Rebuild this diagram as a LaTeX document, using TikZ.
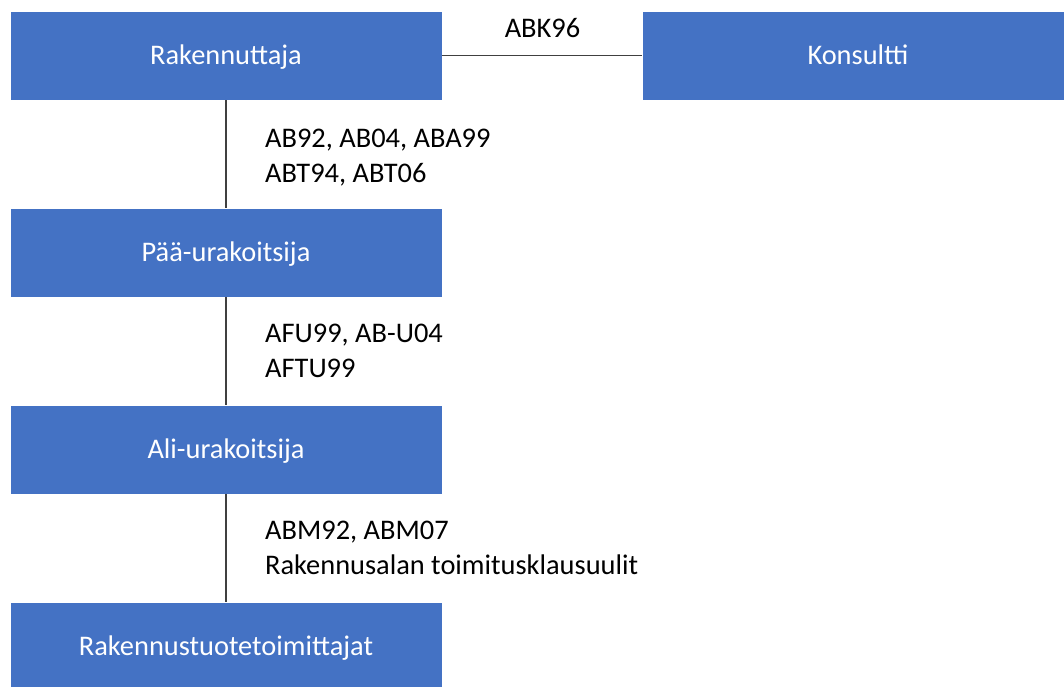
\documentclass[tikz,border=0pt]{standalone}
\usepackage{fontspec}
\setmainfont{Carlito}
\definecolor{boxblue}{HTML}{4472C4}
\definecolor{linegray}{HTML}{404040}
\tikzset{
  party/.style={rectangle, fill=boxblue, draw=white, line width=0.6pt,
    minimum width=432pt, minimum height=89pt, inner sep=0pt,
    text=white, font=\fontsize{28.4}{35}\selectfont,
    text height=20pt, text depth=1.6pt},
  link/.style={draw=linegray, line width=1.3pt},
  terms/.style={inner sep=0pt, align=left, text=black,
    font=\fontsize{28.4}{35}\selectfont},
}
\begin{document}
\begin{tikzpicture}[x=1pt, y=-1pt]
  \useasboundingbox (0,0) rectangle (1064,686);
  % contracting parties
  \node[party] (rak) at (226,55.5) {Rakennuttaja};
  \node[party] (kon) at (858,55.5) {Konsultti};
  \node[party] (paa) at (226,252.5) {Pää-urakoitsija};
  \node[party] (ali) at (226,449.5) {Ali-urakoitsija};
  \node[party] (tuo) at (226,646.5) {Rakennustuotetoimittajat};
  % connections
  \draw[link] (rak.east) -- (kon.west);
  \draw[link] (rak.south) -- (paa.north);
  \draw[link] (paa.south) -- (ali.north);
  \draw[link] (ali.south) -- (tuo.north);
  % general terms of contract (anchored at the baseline of the last line)
  \node[terms, anchor=base] (t0) at (542.5,37.3) {ABK96};
  \node[terms, anchor=base west] (t1) at (265,182.7) {AB92, AB04, ABA99\\ABT94, ABT06};
  \node[terms, anchor=base west] (t2) at (265,377.7) {AFU99, AB-U04\\AFTU99};
  \node[terms, anchor=base west] (t3) at (265,574.5) {ABM92, ABM07\\Rakennusalan toimitusklausuulit};
\end{tikzpicture}
\end{document}
